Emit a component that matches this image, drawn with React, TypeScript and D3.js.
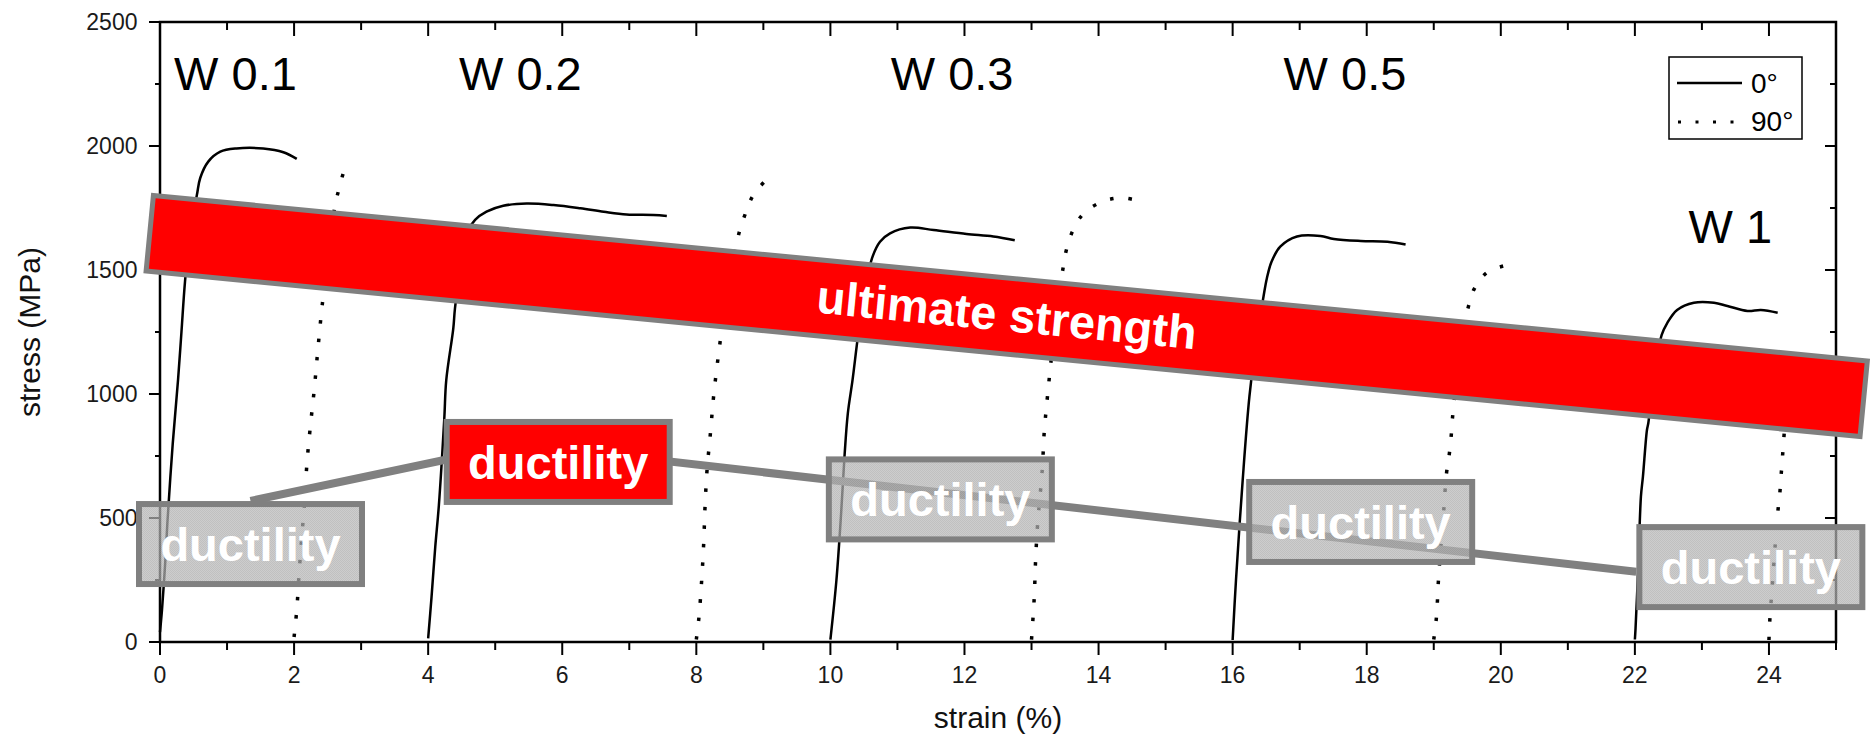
import React from 'react';
import * as d3 from 'd3';

type Pt = [number, number];

const WIDTH = 1872;
const HEIGHT = 739;
const FONT = '"Liberation Sans", Arial, Helvetica, sans-serif';

// Axis ticks
const strainTicks = d3.range(0, 26, 1);
const strainTickLabels = d3.range(0, 25, 2);
const stressTicks = d3.range(0, 2501, 250);
const stressTickLabels = d3.range(0, 2501, 500);

// Specimen groups and where their names sit (strain, stress at text baseline)
const specimens = ['W 0.1', 'W 0.2', 'W 0.3', 'W 0.5', 'W 1'];
const specimenLabelAnchors: Pt[] = [
  [0.21, 2226],
  [4.46, 2226],
  [10.9, 2226],
  [16.76, 2226],
  [22.8, 1608],
];

// Stress–strain curves, 0° orientation (each specimen shifted along strain)
const w01_0: Pt[] = [
  [0.0, 40], [0.03, 130], [0.08, 330], [0.11, 480], [0.19, 800], [0.27, 1060], [0.32, 1250],
  [0.373, 1453], [0.45, 1660], [0.55, 1802], [0.6, 1871], [0.72, 1937], [0.9, 1977],
  [1.14, 1990], [1.54, 1990], [1.84, 1975], [2.04, 1948],
];
const w02_0: Pt[] = [
  [4.0, 15], [4.05, 180], [4.106, 384], [4.16, 552], [4.24, 898], [4.27, 1056], [4.375, 1265],
  [4.4, 1345], [4.5, 1540], [4.6, 1660], [4.7, 1702], [4.87, 1735], [5.12, 1759], [5.47, 1768],
  [5.87, 1762], [6.27, 1749], [6.62, 1735], [6.96, 1724], [7.36, 1722], [7.56, 1718],
];
const w03_0: Pt[] = [
  [10.0, 10], [10.09, 250], [10.16, 519], [10.21, 747], [10.26, 922], [10.33, 1056], [10.42, 1250],
  [10.52, 1420], [10.62, 1547], [10.74, 1614], [10.89, 1648], [11.19, 1671], [11.54, 1661],
  [12.03, 1645], [12.43, 1635], [12.75, 1620],
];
const w05_0: Pt[] = [
  [16.0, 8], [16.05, 250], [16.15, 653], [16.25, 989], [16.35, 1210], [16.46, 1392], [16.51, 1466],
  [16.58, 1533], [16.71, 1594], [16.96, 1635], [17.31, 1637], [17.51, 1625], [17.91, 1617],
  [18.31, 1614], [18.58, 1603],
];
const w1_0: Pt[] = [
  [22.0, 10], [22.01, 55], [22.05, 300], [22.09, 586], [22.12, 667], [22.18, 855], [22.2, 882],
  [22.28, 1060], [22.4, 1238], [22.48, 1285], [22.63, 1339], [22.88, 1368], [23.18, 1368],
  [23.38, 1355], [23.68, 1335], [23.88, 1339], [24.13, 1328],
];

// Stress–strain curves, 90° orientation
const w01_90: Pt[] = [
  [2.0, 20], [2.04, 129], [2.075, 277], [2.115, 425], [2.16, 573], [2.19, 714], [2.24, 862],
  [2.3, 1016], [2.35, 1165], [2.4, 1308], [2.43, 1383], [2.52, 1580], [2.61, 1759], [2.67, 1827],
  [2.75, 1903], [2.77, 1913],
];
const w02_90: Pt[] = [
  [8.0, 10], [8.04, 102], [8.08, 250], [8.11, 398], [8.13, 546], [8.16, 694], [8.21, 841],
  [8.26, 996], [8.35, 1200], [8.45, 1390], [8.55, 1540], [8.64, 1652], [8.73, 1726], [8.85, 1802],
  [9.07, 1870], [9.1, 1876],
];
const w03_90: Pt[] = [
  [13.0, 10], [13.04, 176], [13.06, 324], [13.09, 472], [13.16, 694], [13.19, 848], [13.24, 996],
  [13.31, 1180], [13.39, 1360], [13.47, 1507], [13.52, 1581], [13.61, 1655], [13.77, 1726],
  [14.05, 1775], [14.33, 1791], [14.61, 1778], [14.63, 1776],
];
const w05_90: Pt[] = [
  [19.0, 10], [19.04, 100], [19.07, 250], [19.11, 400], [19.15, 535], [19.19, 680], [19.23, 754],
  [19.26, 831], [19.28, 906], [19.34, 1060], [19.42, 1220], [19.51, 1345], [19.6, 1422],
  [19.8, 1491], [20.08, 1520], [20.1, 1523],
];
const w1_90: Pt[] = [
  [24.0, 8], [24.01, 75], [24.05, 230], [24.09, 380], [24.13, 519], [24.16, 593], [24.18, 667],
  [24.2, 740], [24.22, 815], [24.26, 950], [24.3, 1060],
];

const curves0 = [w01_0, w02_0, w03_0, w05_0, w1_0];
const curves90 = [w01_90, w02_90, w03_90, w05_90, w1_90];

const legendItems = ['0°', '90°'];

// Annotation overlay: ultimate strength trend band (centre line ends, strain/stress)
const ultimateTrend: Pt[] = [
  [-0.19, 1649],
  [25.45, 980],
];
// Ductility callouts (box centres) and the trend line joining them
const ductilityAnchors: Pt[] = [
  [1.35, 395],
  [5.94, 726],
  [11.64, 575],
  [17.91, 484],
  [23.73, 302],
];
const highlightedBox = 1;
const ductilityTrend: Pt[] = [
  [1.35, 569],
  [5.35, 797],
  [22.02, 283],
];

export default function App() {
  const x = d3.scaleLinear().domain([0, 25]).range([160, 1836]);
  const y = d3.scaleLinear().domain([0, 2500]).range([642, 22]);
  const [xL, xR] = x.range();
  const [yB, yT] = y.range();

  const line = d3
    .line<Pt>()
    .x((d) => x(d[0]))
    .y((d) => y(d[1]))
    .curve(d3.curveCatmullRom.alpha(0.5));
  const straight = d3
    .line<Pt>()
    .x((d) => x(d[0]))
    .y((d) => y(d[1]));

  // band geometry
  const [pa, pb] = ultimateTrend.map(([s, v]) => [x(s), y(v)]);
  const bandCx = (pa[0] + pb[0]) / 2;
  const bandCy = (pa[1] + pb[1]) / 2;
  const bandAngle = (Math.atan2(pb[1] - pa[1], pb[0] - pa[0]) * 180) / Math.PI;
  const bandLen = Math.hypot(pb[0] - pa[0], pb[1] - pa[1]);
  const bandStroke = 5;
  const bandThick = 81;

  const boxW = 223;
  const boxH = 80;
  const boxStroke = 6;

  const axisColor = '#000';
  const tickTextColor = '#1a1a1a';

  const legX = xR - 167;
  const legY = yT + 35;

  return (
    <svg
      width={WIDTH}
      height={HEIGHT}
      style={{ position: 'absolute', left: 0, top: 0, background: '#fff' }}
      fontFamily={FONT}
    >
      <defs>
        <pattern id="dither" width="2" height="2" patternUnits="userSpaceOnUse">
          <rect width="2" height="2" fill="#bababa" />
          <rect width="1" height="1" fill="#a8a8a8" />
          <rect x="1" y="1" width="1" height="1" fill="#a8a8a8" />
        </pattern>
      </defs>
      <rect x={0} y={0} width={WIDTH} height={HEIGHT} fill="#fff" />

      {/* ticks */}
      <g stroke={axisColor} strokeWidth={2}>
        {strainTicks.map((s) => {
          const major = s % 2 === 0;
          return (
            <g key={`xt${s}`}>
              <line x1={x(s)} x2={x(s)} y1={yB} y2={yB + (major ? 13 : 8)} />
              <line x1={x(s)} x2={x(s)} y1={yT} y2={yT + (major ? 14 : 8)} />
            </g>
          );
        })}
        {stressTicks.map((v) => {
          const major = v % 500 === 0;
          return (
            <g key={`yt${v}`}>
              <line x1={xL} x2={xL - (major ? 11 : 5)} y1={y(v)} y2={y(v)} />
              <line x1={xR} x2={xR - (major ? 11 : 6)} y1={y(v)} y2={y(v)} />
            </g>
          );
        })}
      </g>

      {/* frame */}
      <rect
        x={xL}
        y={yT}
        width={xR - xL}
        height={yB - yT}
        fill="none"
        stroke={axisColor}
        strokeWidth={2.5}
      />

      {/* tick labels */}
      <g fontSize={23} fill={tickTextColor}>
        {strainTickLabels.map((s) => (
          <text key={`xl${s}`} x={x(s)} y={yB + 41} textAnchor="middle">
            {s}
          </text>
        ))}
        {stressTickLabels.map((v) => (
          <text key={`yl${v}`} x={xL - 22.5} y={y(v) + 8} textAnchor="end">
            {v}
          </text>
        ))}
      </g>

      {/* axis titles */}
      <text x={(xL + xR) / 2} y={yB + 86} textAnchor="middle" fontSize={30} fill="#111">
        strain (%)
      </text>
      <text
        transform={`translate(40, ${(yB + yT) / 2}) rotate(-90)`}
        textAnchor="middle"
        fontSize={30}
        fill="#111"
      >
        stress (MPa)
      </text>

      {/* curves */}
      <g fill="none" stroke="#000">
        {curves0.map((c, i) => (
          <path key={`c0${i}`} d={line(c) || ''} strokeWidth={2.5} />
        ))}
        {curves90.map((c, i) => (
          <path key={`c90${i}`} d={line(c) || ''} strokeWidth={3.5} strokeDasharray="3.5 15" />
        ))}
      </g>

      {/* legend */}
      <g>
        <rect x={legX} y={legY} width={133} height={82} fill="#fff" stroke="#000" strokeWidth={1.5} />
        <line x1={legX + 8} x2={legX + 73} y1={legY + 26} y2={legY + 26} stroke="#000" strokeWidth={2.5} />
        <line
          x1={legX + 9}
          x2={legX + 66}
          y1={legY + 65}
          y2={legY + 65}
          stroke="#000"
          strokeWidth={3}
          strokeDasharray="3 14.5"
        />
        {legendItems.map((t, i) => (
          <text key={t} x={legX + 82} y={legY + 36 + i * 38} fontSize={28} fill="#000">
            {t}
          </text>
        ))}
      </g>

      {/* specimen names */}
      <g fontSize={47} fill="#000">
        {specimens.map((name, i) => (
          <text key={name} x={x(specimenLabelAnchors[i][0])} y={y(specimenLabelAnchors[i][1])}>
            {name}
          </text>
        ))}
      </g>

      {/* ductility trend */}
      <path d={straight(ductilityTrend) || ''} fill="none" stroke="#808080" strokeWidth={8} />

      {/* ductility callouts */}
      {ductilityAnchors.map(([s, v], i) => {
        const cx = x(s);
        const cy = y(v);
        const hi = i === highlightedBox;
        return (
          <g key={`box${i}`}>
            <rect
              x={cx - boxW / 2}
              y={cy - boxH / 2}
              width={boxW}
              height={boxH}
              fill={hi ? '#ff0000' : 'url(#dither)'}
              fillOpacity={hi ? 1 : 0.72}
              stroke="#808080"
              strokeWidth={boxStroke}
            />
            <text
              x={cx}
              y={cy + 17}
              textAnchor="middle"
              fontSize={47}
              fontWeight="bold"
              fill="#fff"
            >
              ductility
            </text>
          </g>
        );
      })}

      {/* ultimate strength band */}
      <g transform={`translate(${bandCx}, ${bandCy}) rotate(${bandAngle})`}>
        <rect
          x={-(bandLen - bandStroke) / 2}
          y={-(bandThick - bandStroke) / 2}
          width={bandLen - bandStroke}
          height={bandThick - bandStroke}
          fill="#ff0000"
          stroke="#808080"
          strokeWidth={bandStroke}
        />
        <text x={0} y={15} textAnchor="middle" fontSize={47} fontWeight="bold" fill="#fff">
          ultimate strength
        </text>
      </g>
    </svg>
  );
}
